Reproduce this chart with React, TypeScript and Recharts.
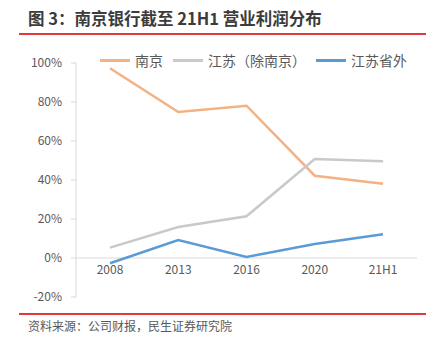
import { LineChart, Line, XAxis, YAxis, ReferenceLine } from 'recharts'

const periods = ['2008', '2013', '2016', '2020', '21H1']
const nanjing = [97.3, 74.9, 78.1, 42.2, 38.1]
const jiangsuExNanjing = [5.3, 15.9, 21.4, 50.8, 49.6]
const outsideJiangsu = [-2.7, 9.2, 0.5, 7.2, 12.2]
const yTicks = [-20, 0, 20, 40, 60, 80, 100]

const seriesNames = { nj: '南京', js: '江苏（除南京）', out: '江苏省外' }
const colors = { nj: '#F4B183', js: '#C9C9C9', out: '#5B9BD5' }
const seriesKeys = ['nj', 'js', 'out'] as const

const data = periods.map((p, i) => ({
  period: p,
  nj: nanjing[i],
  js: jiangsuExNanjing[i],
  out: outsideJiangsu[i],
}))

const FONT = '"Noto Sans CJK SC", "Noto Sans", sans-serif'

function LegendRow() {
  return (
    <div style={{ position: 'absolute', left: 100, top: 50, display: 'flex', alignItems: 'center', fontSize: 14, color: '#595959', whiteSpace: 'nowrap' }}>
      {seriesKeys.map((k) => (
        <div key={k} style={{ display: 'flex', alignItems: 'center', marginRight: 10 }}>
          <span style={{ display: 'inline-block', width: 30, height: 3, background: colors[k], marginRight: 5 }} />
          <span>{seriesNames[k]}</span>
        </div>
      ))}
    </div>
  )
}

function XTick(props: any) {
  const { x, y, payload } = props
  return (
    <text x={x} y={y - 31} textAnchor="middle" fill="#595959" fontSize={12} fontFamily={FONT}>
      {payload.value}
    </text>
  )
}

export default function App() {
  return (
    <div style={{ position: 'absolute', left: 0, top: 0, width: 438, height: 350, background: '#fff', fontFamily: FONT }}>
      <div style={{ position: 'absolute', left: 28, top: 6, fontSize: 16.5, fontWeight: 700, color: '#3b3b3b', whiteSpace: 'nowrap' }}>
        图 3：南京银行截至 21H1 营业利润分布
      </div>
      <div style={{ position: 'absolute', left: 19, top: 33, width: 407, height: 2, background: '#E03A3A' }} />
      <LineChart width={438} height={350} data={data} margin={{ top: 63, right: 21, bottom: 23, left: 0 }}>
        <ReferenceLine y={0} stroke="#D9D9D9" strokeWidth={1} />
        <XAxis
          dataKey="period"
          axisLine={false}
          tickLine={false}
          height={30}
          tick={<XTick />}
          interval={0}
          padding={{ left: 34, right: 34 }}
        />
        <YAxis
          width={76}
          domain={[-20, 100]}
          ticks={yTicks}
          tickFormatter={(v) => `${v}%`}
          stroke="#D9D9D9"
          tickSize={5}
          tickMargin={9}
          tick={{ fill: '#595959', fontSize: 12, fontFamily: FONT }}
        />
        {seriesKeys.map((k) => (
          <Line key={k} dataKey={k} name={seriesNames[k]} stroke={colors[k]} strokeWidth={2.5} dot={false} isAnimationActive={false} />
        ))}
      </LineChart>
      <LegendRow />
      <div style={{ position: 'absolute', left: 28, top: 317, fontSize: 12, color: '#595959', whiteSpace: 'nowrap' }}>
        资料来源：公司财报，民生证券研究院
      </div>
      <div style={{ position: 'absolute', left: 19, top: 313, width: 407, height: 1.5, background: '#E03A3A' }} />
    </div>
  )
}
